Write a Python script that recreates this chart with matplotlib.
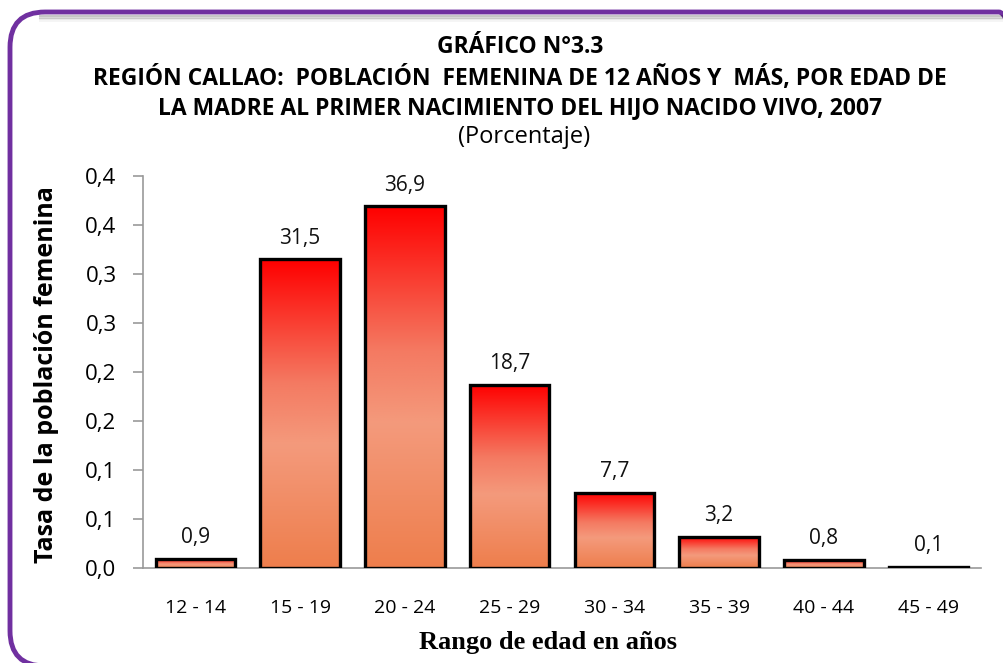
import numpy as np
import matplotlib.pyplot as plt
from matplotlib.patches import FancyBboxPatch
from matplotlib.colors import LinearSegmentedColormap

# data
rangos = ['12 - 14', '15 - 19', '20 - 24', '25 - 29', '30 - 34', '35 - 39', '40 - 44', '45 - 49']
tasas = [0.009, 0.315, 0.369, 0.187, 0.077, 0.032, 0.008, 0.001]
etiquetas = ['0,9', '31,5', '36,9', '18,7', '7,7', '3,2', '0,8', '0,1']
yticks = [0.0, 0.05, 0.10, 0.15, 0.20, 0.25, 0.30, 0.35, 0.40]
ytick_labels = ['0,0', '0,1', '0,1', '0,2', '0,2', '0,3', '0,3', '0,4', '0,4']

W, H = 1004, 663
fig = plt.figure(figsize=(W / 100, H / 100), dpi=100)
fig.patch.set_facecolor('white')

# soft shadow under the top edge of the frame
for i, a in enumerate([0.22, 0.14, 0.08, 0.04]):
    fig.add_artist(plt.Line2D([40 / W, 1.0], [1 - (16 + i * 1.5) / H] * 2,
                              transform=fig.transFigure, color='black', alpha=a, lw=1.5))

# purple rounded frame
frame = FancyBboxPatch((10 / W, -3 / H), (W + 20) / W, (H - 12 + 3) / H,
                       boxstyle='round,pad=0,rounding_size=0.035',
                       transform=fig.transFigure, fill=False,
                       edgecolor='#7030A0', lw=3.5, mutation_aspect=W / H)
fig.patches.append(frame)

ax = fig.add_axes([143 / W, 1 - 568 / H, (981 - 143) / W, (568 - 176) / H])
ax.set_facecolor('none')

x = np.arange(len(rangos))
bars = ax.bar(x, tasas, width=0.76, color='none', edgecolor='black', linewidth=2.4, zorder=3)

cmap = LinearSegmentedColormap.from_list('grad', [(0.0, '#EE7E4C'), (0.4, '#F49A7C'),
                                                  (0.6, '#F47A62'), (1.0, '#FF0000')])
grad = np.linspace(0, 1, 256).reshape(-1, 1)
for b in bars:
    x0, h, w = b.get_x(), b.get_height(), b.get_width()
    im = ax.imshow(grad, cmap=cmap, origin='lower', aspect='auto',
                   extent=[x0, x0 + w, 0, h], zorder=2)
    im.set_clip_path(b)

for xi, v, lab in zip(x, tasas, etiquetas):
    ax.text(xi, v + 0.011, lab, ha='center', va='bottom', fontsize=15,
            family='Open Sans', color='#111111')

ax.set_xlim(-0.5, len(rangos) - 0.5)
ax.set_ylim(0, 0.4)
ax.set_yticks(yticks)
ax.set_yticklabels(ytick_labels, fontsize=16, family='Open Sans')
ax.set_xticks(x)
ax.set_xticklabels(rangos, fontsize=14, family='Open Sans')
ax.tick_params(axis='x', length=0, pad=22)
ax.tick_params(axis='y', length=7, color='#999999', width=1.2, pad=12)
for s in ['top', 'right']:
    ax.spines[s].set_visible(False)
ax.spines['left'].set_color('#999999')
ax.spines['bottom'].set_color('#999999')
ax.spines['left'].set_linewidth(1.2)
ax.spines['bottom'].set_linewidth(1.2)

fig.text(47 / W, 1 - 375 / H, 'Tasa de la población femenina', rotation=90,
         ha='center', va='center', fontsize=18, fontweight='bold', family='Open Sans')
fig.text(548 / W, 1 - 642 / H, 'Rango de edad en años', ha='center', va='center',
         fontsize=19, fontweight='bold', family='Liberation Serif')

fig.text(520 / W, 1 - 47 / H, 'GRÁFICO N°3.3', ha='center', va='center',
         fontsize=16.5, fontweight='bold', family='Open Sans')
fig.text(520 / W, 1 - 78 / H, 'REGIÓN CALLAO:  POBLACIÓN  FEMENINA DE 12 AÑOS Y  MÁS, POR EDAD DE',
         ha='center', va='center', fontsize=16.5, fontweight='bold', family='Open Sans')
fig.text(520 / W, 1 - 108 / H, 'LA MADRE AL PRIMER NACIMIENTO DEL HIJO NACIDO VIVO, 2007',
         ha='center', va='center', fontsize=16.5, fontweight='bold', family='Open Sans')
fig.text(524 / W, 1 - 137 / H, '(Porcentaje)', ha='center', va='center',
         fontsize=17, family='Open Sans')

plt.savefig('out.png', dpi=100)
